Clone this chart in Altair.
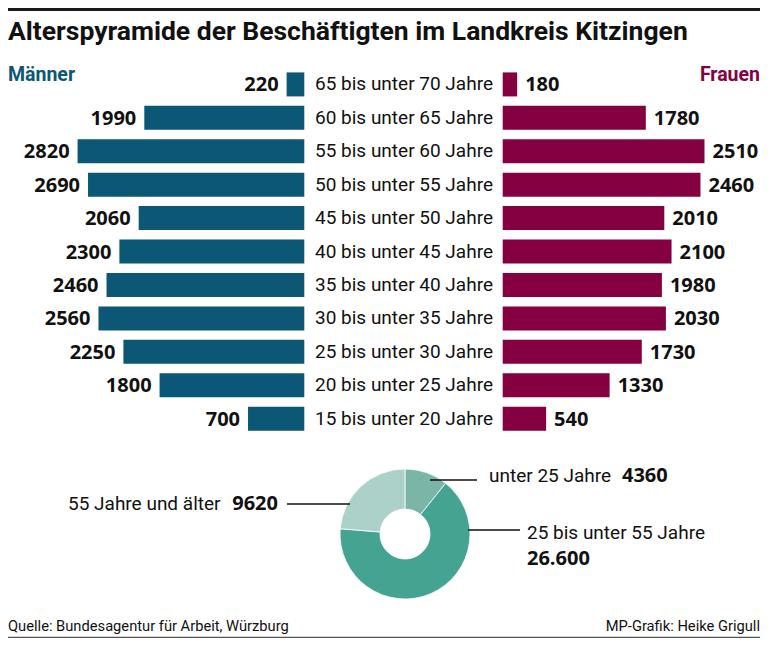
import altair as alt
import pandas as pd

# ---------------- data ----------------
ages = [
    "65 bis unter 70 Jahre", "60 bis unter 65 Jahre", "55 bis unter 60 Jahre",
    "50 bis unter 55 Jahre", "45 bis unter 50 Jahre", "40 bis unter 45 Jahre",
    "35 bis unter 40 Jahre", "30 bis unter 35 Jahre", "25 bis unter 30 Jahre",
    "20 bis unter 25 Jahre", "15 bis unter 20 Jahre",
]
men = [220, 1990, 2820, 2690, 2060, 2300, 2460, 2560, 2250, 1800, 700]
women = [180, 1780, 2510, 2460, 2010, 2100, 1980, 2030, 1730, 1330, 540]

donut_labels = ["unter 25 Jahre", "25 bis unter 55 Jahre", "55 Jahre und älter"]
donut_values = [4360, 26600, 9620]
donut_value_text = ["4360", "26.600", "9620"]

title_text = "Alterspyramide der Beschäftigten im Landkreis Kitzingen"
source_text = "Quelle: Bundesagentur für Arbeit, Würzburg"
credit_text = "MP-Grafik: Heike Grigull"

# ---------------- style ----------------
MEN_C = "#0b5775"
WOMEN_C = "#850040"
DONUT_C = ["#7ab5a8", "#45a392", "#abd1c9"]
INK = "#111111"
COND = "Roboto, sans-serif"
BOLD = "'Open Sans', 'Roboto', sans-serif"

W, H = 752, 630
pyr = pd.DataFrame({"age": ages, "men": men, "women": women})
don = pd.DataFrame({"label": donut_labels, "value": donut_values, "idx": [0, 1, 2]})
one = pd.DataFrame({"k": [0]})

yscale = alt.Scale(domain=ages, range=[59.7, 427.4], paddingInner=0.282, paddingOuter=0.141)
men_scale = alt.Scale(domain=[0, 3000], range=[296.3, 296.3 - 241.2])
women_scale = alt.Scale(domain=[0, 3000], range=[494.7, 494.7 + 241.2])
Y = alt.Y("age:N", scale=yscale, axis=None, sort=None)

men_bar = alt.Chart(pyr).mark_bar(color=MEN_C).encode(
    x=alt.X("men:Q", scale=men_scale, axis=None), y=Y)
men_txt = alt.Chart(pyr).mark_text(
    align="right", baseline="middle", dx=-8, dy=1, fontSize=20, fontWeight="bold",
    font=BOLD, color=INK).encode(
    x=alt.X("men:Q", scale=men_scale, axis=None), y=Y, text=alt.Text("men:Q", format="d"))
women_bar = alt.Chart(pyr).mark_bar(color=WOMEN_C).encode(
    x=alt.X("women:Q", scale=women_scale, axis=None), y=Y)
women_txt = alt.Chart(pyr).mark_text(
    align="left", baseline="middle", dx=8, dy=1, fontSize=20, fontWeight="bold",
    font=BOLD, color=INK).encode(
    x=alt.X("women:Q", scale=women_scale, axis=None), y=Y, text=alt.Text("women:Q", format="d"))
age_txt = alt.Chart(pyr).mark_text(
    align="left", baseline="middle", fontSize=19, font=COND, color=INK).encode(
    x=alt.value(307), y=Y, text="age:N")

donut = alt.Chart(don).mark_arc(radius=65, radius2=25, stroke="#ffffff", strokeWidth=0.8).encode(
    theta=alt.Theta("value:Q", stack=True),
    color=alt.Color("label:N", scale=alt.Scale(domain=donut_labels, range=DONUT_C), legend=None),
    order=alt.Order("idx:Q"),
    x=alt.value(397), y=alt.value(526),
)


def txt(s, x, y, size, font=COND, bold=False, color=INK, align="left"):
    return alt.Chart(one).mark_text(
        text=s, align=align, baseline="middle", fontSize=size, font=font,
        fontWeight="bold" if bold else "normal", color=color,
    ).encode(x=alt.value(x), y=alt.value(y))


def rule(x1, x2, y, color=INK, w=1.6):
    return alt.Chart(one).mark_rule(color=color, strokeWidth=w).encode(
        x=alt.value(x1), x2=alt.value(x2), y=alt.value(y))


layers = [
    rule(0, W, 1.5, color="#1a1a1a", w=3),
    txt(title_text, 0, 24, 26.5, font="Roboto", bold=True),
    txt("Männer", 0, 67, 19.5, font="Roboto", bold=True, color=MEN_C),
    txt("Frauen", W, 67, 19.5, font="Roboto", bold=True, color=WOMEN_C, align="right"),
    men_bar, men_txt, women_bar, women_txt, age_txt,
    donut,
    rule(279, 342, 496),
    rule(422, 469, 472),
    rule(460, 512, 522),
    txt(donut_labels[2], 60, 495.5, 19),
    txt(donut_value_text[2], 270, 496, 20, font=BOLD, bold=True, align="right"),
    txt(donut_labels[0], 481, 468, 19),
    txt(donut_value_text[0], 614, 468, 20, font=BOLD, bold=True),
    txt(donut_labels[1], 519, 525, 19),
    txt(donut_value_text[1], 519, 551, 20, font=BOLD, bold=True),
    txt(source_text, 0, 619, 14.7),
    txt(credit_text, W, 619, 14.7, align="right"),
    rule(0, W, 629.5, color="#555555", w=1.5),
]

chart = alt.layer(*layers).resolve_scale(x="independent").properties(
    width=W, height=H, autosize=alt.AutoSizeParams(type="none"), padding=0,
).configure_view(stroke=None)

chart.save("out.html", embed_options={"renderer": "svg", "actions": False})
